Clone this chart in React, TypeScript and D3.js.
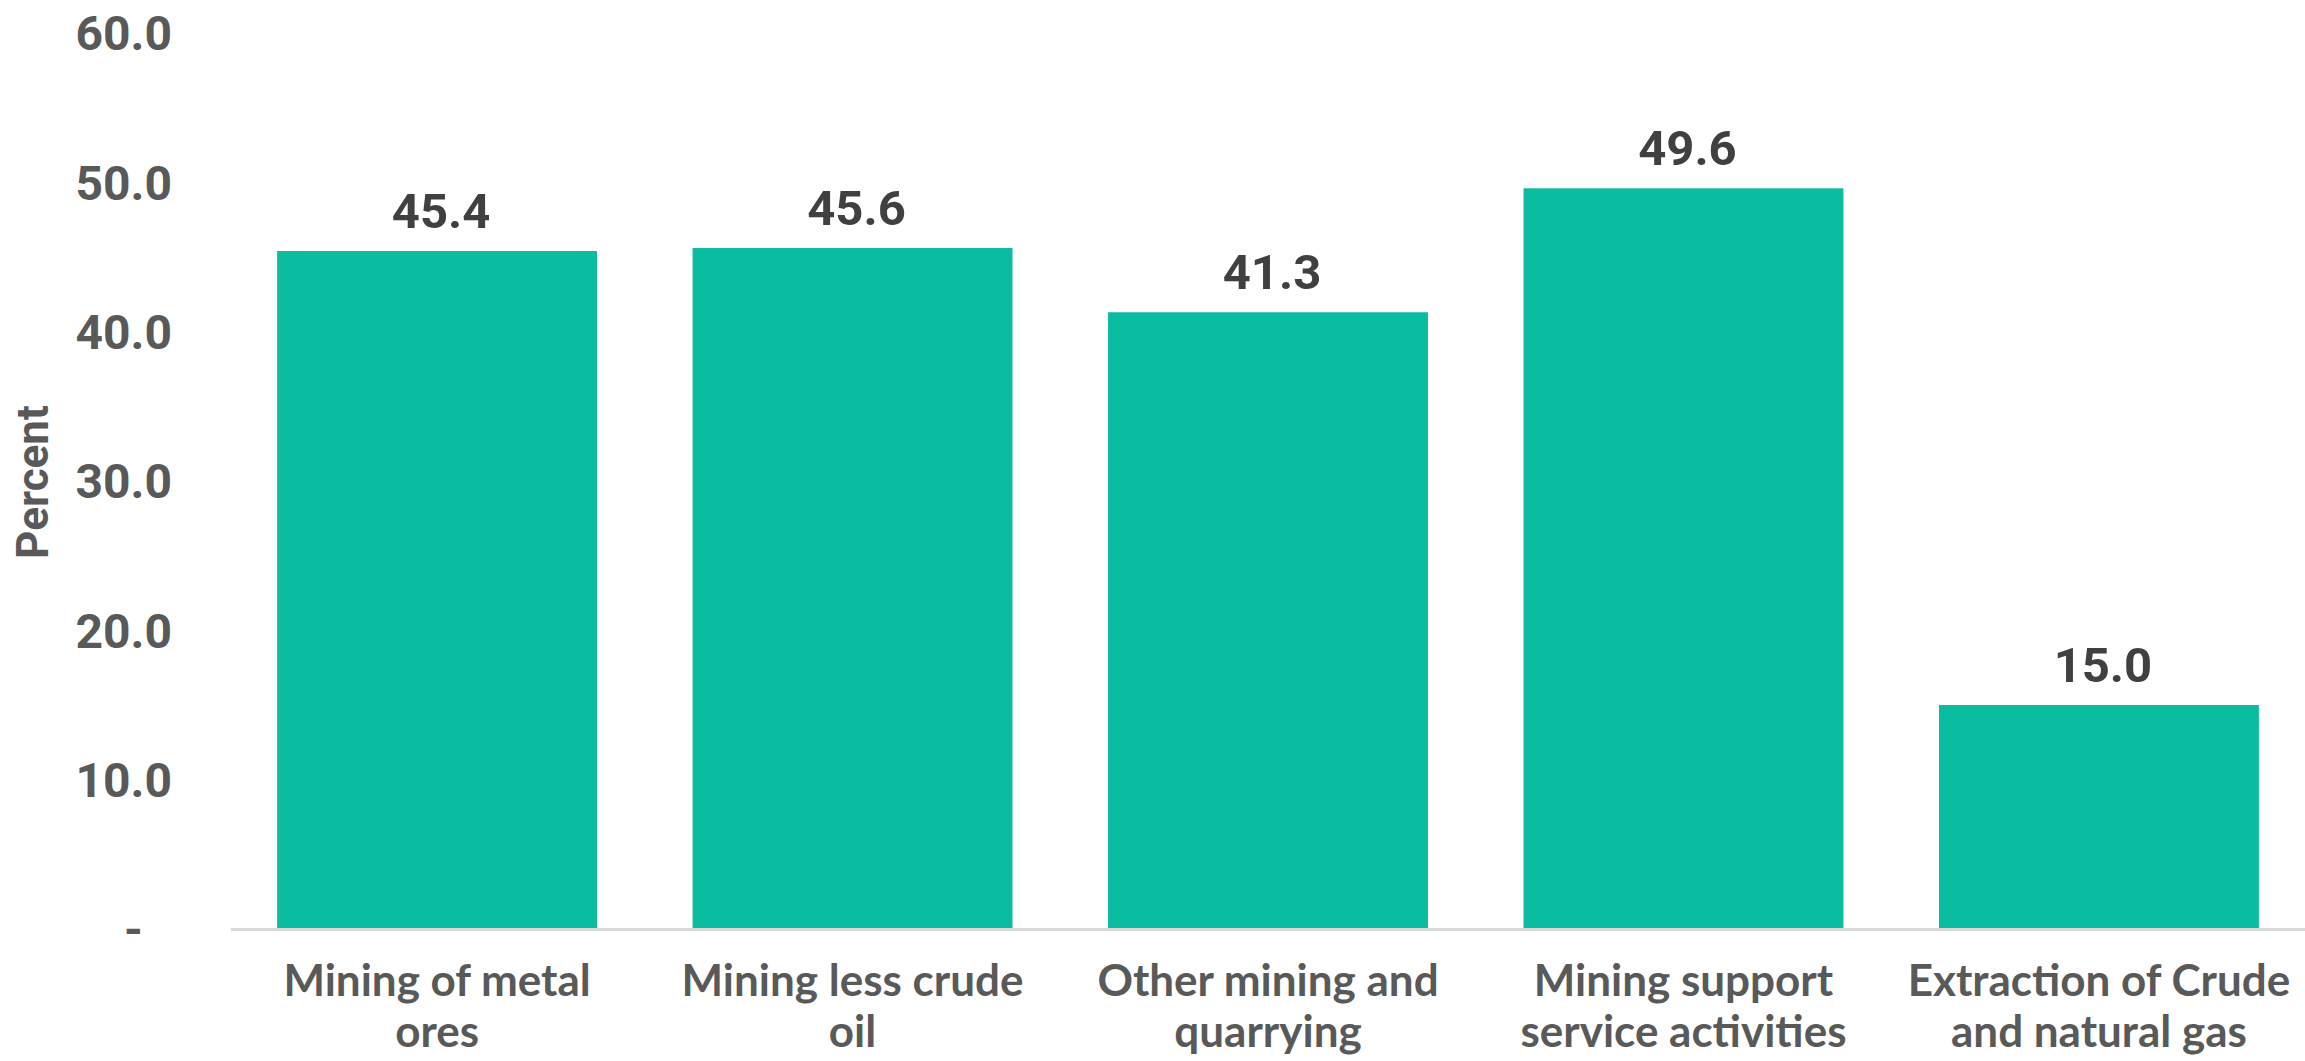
import React from "react";
import * as d3 from "d3";

const categories: string[][] = [
  ["Mining of metal", "ores"],
  ["Mining less crude", "oil"],
  ["Other mining and", "quarrying"],
  ["Mining support", "service activities"],
  ["Extraction of Crude", "and natural gas"],
];
const values: number[] = [45.4, 45.6, 41.3, 49.6, 15.0];
const yTicks: number[] = [0, 10, 20, 30, 40, 50, 60];
const yTitle = "Percent";

const W = 2305;
const H = 1061;

export default function App() {
  const x = d3
    .scaleBand<number>()
    .domain(values.map((_, i) => i))
    .range([231, 2305])
    .paddingInner(0.23)
    .paddingOuter(0.111);
  const y = d3.scaleLinear().domain([0, 60]).range([929, 33]);
  const fmt = d3.format(".1f");

  return (
    <svg
      width={W}
      height={H}
      style={{ position: "absolute", left: 0, top: 0, background: "#fff" }}
    >
      <rect x={0} y={0} width={W} height={H} fill="#ffffff" />
      {yTicks.map((t) => (
        <text
          key={t}
          x={t === 0 ? 143 : 172}
          y={y(t)}
          dy="0.36em"
          textAnchor="end"
          fontFamily="Roboto, sans-serif"
          fontWeight={700}
          fontSize={48}
          fill="#595959"
        >
          {t === 0 ? "-" : fmt(t)}
        </text>
      ))}
      <text
        transform={`translate(48,482) rotate(-90)`}
        textAnchor="middle"
        fontFamily="Roboto, sans-serif"
        fontWeight={700}
        fontSize={44}
        fill="#595959"
      >
        {yTitle}
      </text>
      {values.map((v, i) => (
        <rect
          key={i}
          x={x(i)}
          y={y(v)}
          width={x.bandwidth()}
          height={y(0) - y(v)}
          fill="#0ABDA0"
        />
      ))}
      <line x1={231} x2={2305} y1={929.5} y2={929.5} stroke="#D9D9D9" strokeWidth={3} />
      {values.map((v, i) => (
        <text
          key={"l" + i}
          x={(x(i) as number) + x.bandwidth() / 2 + 4}
          y={y(v) - 23}
          textAnchor="middle"
          fontFamily="Roboto, sans-serif"
          fontWeight={700}
          fontSize={49}
          fill="#404040"
        >
          {fmt(v)}
        </text>
      ))}
      {categories.map((lines, i) => (
        <text
          key={"c" + i}
          textAnchor="middle"
          fontFamily="Lato, sans-serif"
          fontWeight={700}
          fontSize={44}
          fill="#595959"
        >
          {lines.map((ln, j) => (
            <tspan key={j} x={(x(i) as number) + x.bandwidth() / 2} y={996 + j * 51}>
              {ln}
            </tspan>
          ))}
        </text>
      ))}
    </svg>
  );
}
